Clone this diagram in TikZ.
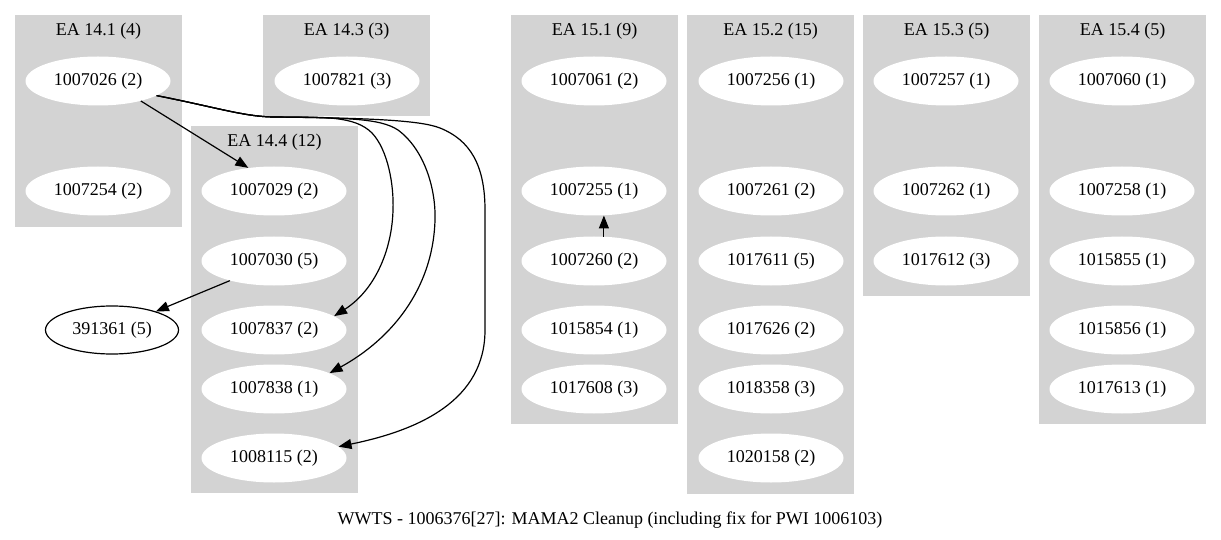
\documentclass[tikz,border=0pt]{standalone}
\usepackage{fontspec}
\setmainfont{Liberation Serif}
\usetikzlibrary{shapes.geometric,arrows.meta}
\definecolor{clustergray}{HTML}{D3D3D3}
\tikzset{
  tnode/.style={ellipse, fill=white, draw=none, minimum width=145pt, minimum height=49pt, inner sep=0pt, font=\fontsize{18}{21}\selectfont},
  onode/.style={ellipse, fill=white, draw=black, line width=1.2pt, minimum width=133pt, minimum height=48pt, inner sep=0pt, font=\fontsize{18}{21}\selectfont},
  clusterbox/.style={fill=clustergray},
  ctitle/.style={inner sep=0pt, font=\fontsize{18}{21}\selectfont},
  edge/.style={draw=black, line width=1.2pt, -{Triangle[length=13pt,width=10pt]}},
}
\begin{document}
\begin{tikzpicture}[x=1pt,y=-1pt]
\useasboundingbox[fill=white] (0,0) rectangle (1221,540);
% clusters
\path[clusterbox] (15,15) rectangle (182,227);
\path[clusterbox] (263,15) rectangle (430,116);
\path[clusterbox] (191,126) rectangle (358,493);
\path[clusterbox] (511,15) rectangle (678,424);
\path[clusterbox] (687,15) rectangle (854,494);
\path[clusterbox] (863,15) rectangle (1030,296);
\path[clusterbox] (1039,15) rectangle (1206,424);
\node[ctitle] (t141) at (98.5,31) {EA 14.1 (4)};
\node[ctitle] (t143) at (346.5,31) {EA 14.3 (3)};
\node[ctitle] (t144) at (274.5,142) {EA 14.4 (12)};
\node[ctitle] (t151) at (594.5,31) {EA 15.1 (9)};
\node[ctitle] (t152) at (770.5,31) {EA 15.2 (15)};
\node[ctitle] (t153) at (946.5,31) {EA 15.3 (5)};
\node[ctitle] (t154) at (1122.5,31) {EA 15.4 (5)};
% EA 14.1
\node[tnode] (n1007026) at (98,81) {1007026 (2)};
\node[tnode] (n1007254) at (98,191) {1007254 (2)};
% EA 14.3
\node[tnode] (n1007821) at (347,81) {1007821 (3)};
% EA 14.4
\node[tnode] (n1007029) at (274,191) {1007029 (2)};
\node[tnode] (n1007030) at (274,261) {1007030 (5)};
\node[tnode] (n1007837) at (274,330) {1007837 (2)};
\node[tnode] (n1007838) at (274,389) {1007838 (1)};
\node[tnode] (n1008115) at (274,458) {1008115 (2)};
% EA 15.1
\node[tnode] (n1007061) at (594,81) {1007061 (2)};
\node[tnode] (n1007255) at (594,191) {1007255 (1)};
\node[tnode] (n1007260) at (594,261) {1007260 (2)};
\node[tnode] (n1015854) at (594,330) {1015854 (1)};
\node[tnode] (n1017608) at (594,389) {1017608 (3)};
% EA 15.2
\node[tnode] (n1007256) at (771,81) {1007256 (1)};
\node[tnode] (n1007261) at (771,191) {1007261 (2)};
\node[tnode] (n1017611) at (771,261) {1017611 (5)};
\node[tnode] (n1017626) at (771,330) {1017626 (2)};
\node[tnode] (n1018358) at (771,389) {1018358 (3)};
\node[tnode] (n1020158) at (771,458) {1020158 (2)};
% EA 15.3
\node[tnode] (n1007257) at (946,81) {1007257 (1)};
\node[tnode] (n1007262) at (946,191) {1007262 (1)};
\node[tnode] (n1017612) at (946,261) {1017612 (3)};
% EA 15.4
\node[tnode] (n1007060) at (1122,81) {1007060 (1)};
\node[tnode] (n1007258) at (1122,191) {1007258 (1)};
\node[tnode] (n1015855) at (1122,261) {1015855 (1)};
\node[tnode] (n1015856) at (1122,330) {1015856 (1)};
\node[tnode] (n1017613) at (1122,389) {1017613 (1)};
% outside
\node[onode] (n391361) at (112,330) {391361 (5)};
% edges
\draw[edge] (n1007026.-25) -- (n1007029.138);
\draw[edge] (n1007026.-14) .. controls (215,107) and (245,117) .. (275,117)
  .. controls (325,117) and (355,116) .. (372,133)
  .. controls (388,150) and (394,185) .. (393,210)
  .. controls (392,250) and (375,290) .. (n1007837.13);
\draw[edge] (n1007026.-14) .. controls (215,107) and (245,117) .. (275,117)
  .. controls (345,118) and (380,118) .. (398,130)
  .. controls (425,150) and (436,190) .. (435,220)
  .. controls (433,290) and (390,340) .. (n1007838.16);
\draw[edge] (n1007026.-14) .. controls (215,107) and (245,117) .. (275,117)
  .. controls (365,118) and (420,120) .. (440,128)
  .. controls (470,140) and (485,165) .. (485,210)
  -- (485,330)
  .. controls (485,400) and (420,430) .. (n1008115.10);
\draw[edge] (n1007030.-156) -- (n391361.23);
\draw[edge] (n1007260.68) -- (n1007255.-68);
% graph label
\node[ctitle] (glabel) at (610,520) {WWTS - 1006376[27]: MAMA2 Cleanup (including fix for PWI 1006103)};
\end{tikzpicture}
\end{document}
